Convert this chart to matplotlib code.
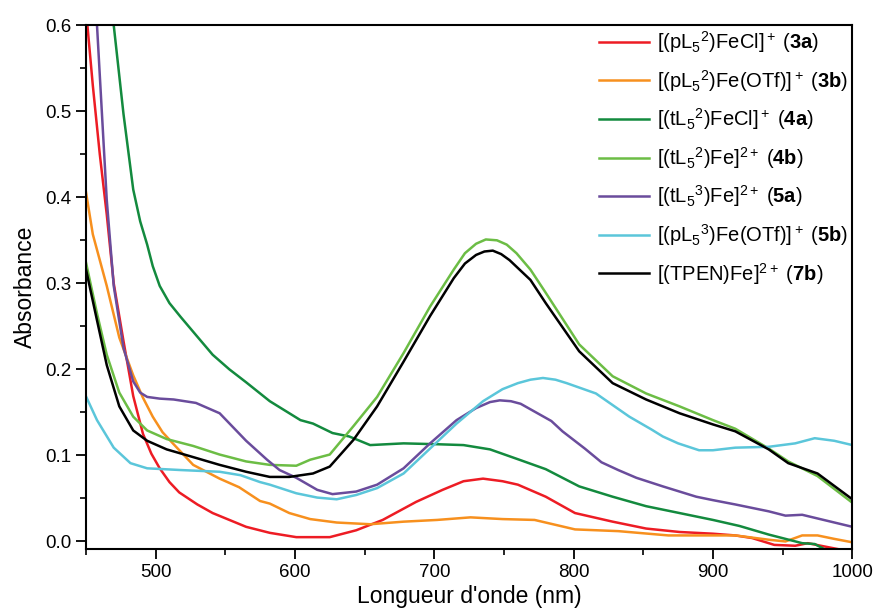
import matplotlib
matplotlib.use("Agg")
import matplotlib.pyplot as plt
from matplotlib.ticker import MultipleLocator, FormatStrFormatter

plt.rcParams['font.family'] = ['Liberation Sans', 'DejaVu Sans']
plt.rcParams['mathtext.fontset'] = 'custom'
plt.rcParams['mathtext.rm'] = 'Liberation Sans'
plt.rcParams['mathtext.it'] = 'Liberation Sans'
plt.rcParams['mathtext.bf'] = 'Liberation Sans:bold'

# --- data (wavelength nm, absorbance) ---
red_x = [450, 455, 460, 465, 470, 477, 484, 491, 497, 503, 510, 517, 530, 541, 565, 582, 601, 625,
         644, 663, 687, 706, 721, 735, 749, 760, 780, 801, 828, 852, 876, 900, 916, 928, 944, 959,
         968, 990, 1000]
red_y = [0.62, 0.53, 0.45, 0.38, 0.30, 0.233, 0.169, 0.125, 0.102, 0.085, 0.069, 0.057, 0.043,
         0.033, 0.017, 0.010, 0.005, 0.005, 0.013, 0.025, 0.046, 0.060, 0.070, 0.073, 0.070,
         0.066, 0.052, 0.033, 0.023, 0.015, 0.011, 0.009, 0.007, 0.004, -0.004, -0.005, -0.002,
         -0.009, -0.015]

orange_x = [450, 455, 465, 474, 484, 491, 498, 505, 513, 527, 546, 560, 575, 582, 596, 611, 630,
            654, 678, 702, 726, 749, 772, 801, 832, 868, 900, 916, 940, 952, 964, 975, 987, 1000]
orange_y = [0.407, 0.357, 0.297, 0.237, 0.193, 0.167, 0.145, 0.127, 0.113, 0.089, 0.073, 0.063,
            0.047, 0.044, 0.033, 0.026, 0.022, 0.020, 0.023, 0.025, 0.028, 0.026, 0.025, 0.014,
            0.012, 0.007, 0.007, 0.007, 0.002, 0.000, 0.007, 0.007, 0.003, -0.001]

dkgreen_x = [463, 470, 477, 484, 489, 494, 498, 503, 510, 518, 530, 541, 553, 565, 582, 604, 613,
             627, 639, 654, 678, 702, 721, 740, 761, 780, 804, 828, 852, 876, 900, 919, 940, 964,
             973, 980, 1000]
dkgreen_y = [0.70, 0.60, 0.497, 0.409, 0.372, 0.345, 0.320, 0.297, 0.277, 0.261, 0.238, 0.217,
             0.200, 0.185, 0.163, 0.141, 0.137, 0.126, 0.122, 0.112, 0.114, 0.113, 0.112, 0.107,
             0.095, 0.084, 0.064, 0.052, 0.041, 0.033, 0.025, 0.018, 0.008, -0.002, -0.003,
             -0.009, -0.02]

ltgreen_x = [450, 458, 465, 474, 484, 494, 508, 527, 546, 565, 582, 601, 611, 625, 642, 659, 678,
             697, 714, 722, 730, 737, 745, 752, 759, 769, 780, 804, 828, 852, 876, 900, 916, 940,
             954, 975, 1000]
ltgreen_y = [0.325, 0.265, 0.217, 0.173, 0.145, 0.129, 0.119, 0.111, 0.101, 0.093, 0.089, 0.088,
             0.095, 0.101, 0.134, 0.168, 0.219, 0.273, 0.316, 0.335, 0.346, 0.351, 0.350, 0.345,
             0.335, 0.316, 0.289, 0.229, 0.192, 0.172, 0.157, 0.141, 0.131, 0.108, 0.093, 0.076,
             0.045]

purple_x = [455, 458, 465, 470, 477, 484, 489, 494, 503, 513, 529, 546, 565, 580, 589, 601, 616,
            627, 644, 659, 678, 697, 716, 730, 740, 747, 755, 762, 784, 792, 808, 820, 832, 845,
            864, 888, 900, 916, 940, 952, 964, 1000]
purple_y = [0.70, 0.60, 0.397, 0.297, 0.225, 0.186, 0.173, 0.168, 0.166, 0.165, 0.161, 0.149,
            0.117, 0.095, 0.083, 0.074, 0.060, 0.055, 0.058, 0.066, 0.085, 0.114, 0.141, 0.155,
            0.162, 0.164, 0.163, 0.160, 0.140, 0.128, 0.108, 0.092, 0.083, 0.074, 0.064, 0.052,
            0.048, 0.043, 0.035, 0.030, 0.031, 0.017]

cyan_x = [450, 458, 470, 482, 494, 518, 546, 561, 575, 582, 601, 616, 630, 644, 659, 678, 697,
          716, 735, 749, 760, 769, 778, 787, 795, 816, 840, 856, 864, 875, 890, 900, 916, 940,
          959, 973, 987, 1000]
cyan_y = [0.169, 0.141, 0.109, 0.091, 0.085, 0.083, 0.081, 0.077, 0.069, 0.066, 0.056, 0.051,
          0.049, 0.054, 0.062, 0.079, 0.108, 0.137, 0.163, 0.177, 0.184, 0.188, 0.190, 0.188,
          0.184, 0.172, 0.145, 0.130, 0.122, 0.114, 0.106, 0.106, 0.109, 0.110, 0.114, 0.120,
          0.117, 0.112]

black_x = [450, 458, 465, 474, 484, 494, 508, 525, 546, 565, 582, 596, 613, 625, 642, 659, 678,
           697, 714, 722, 730, 736, 742, 748, 754, 769, 780, 804, 828, 852, 876, 900, 916, 940,
           954, 975, 1000]
black_y = [0.317, 0.257, 0.205, 0.157, 0.129, 0.117, 0.107, 0.099, 0.089, 0.081, 0.075, 0.075,
           0.079, 0.087, 0.118, 0.157, 0.209, 0.262, 0.306, 0.323, 0.333, 0.337, 0.338, 0.334,
           0.327, 0.304, 0.277, 0.221, 0.184, 0.165, 0.149, 0.136, 0.128, 0.107, 0.091, 0.079,
           0.049]

labels = [r'[(pL$_5$$^2$)FeCl]$^+$ ($\mathbf{3a}$)',
          r'[(pL$_5$$^2$)Fe(OTf)]$^+$ ($\mathbf{3b}$)',
          r'[(tL$_5$$^2$)FeCl]$^+$ ($\mathbf{4a}$)',
          r'[(tL$_5$$^2$)Fe]$^{2+}$ ($\mathbf{4b}$)',
          r'[(tL$_5$$^3$)Fe]$^{2+}$ ($\mathbf{5a}$)',
          r'[(pL$_5$$^3$)Fe(OTf)]$^+$ ($\mathbf{5b}$)',
          r'[(TPEN)Fe]$^{2+}$ ($\mathbf{7b}$)']
colors = ['#ED1C24', '#F7901E', '#138A3E', '#6CBD45', '#6A4C9C', '#5BC6DA', '#000000']
series = [(red_x, red_y), (orange_x, orange_y), (dkgreen_x, dkgreen_y), (ltgreen_x, ltgreen_y),
          (purple_x, purple_y), (cyan_x, cyan_y), (black_x, black_y)]

fig = plt.figure(figsize=(8.76, 6.15), dpi=100)
ax = fig.add_axes([0.098, 0.107, 0.875, 0.852])
for (x, y), c, lab in zip(series, colors, labels):
    ax.plot(x, y, color=c, lw=1.8, label=lab, solid_joinstyle='round')

ax.set_xlim(450, 1000)
ax.set_ylim(-0.009, 0.6)
ax.xaxis.set_major_locator(MultipleLocator(100))
ax.xaxis.set_minor_locator(MultipleLocator(50))
ax.yaxis.set_major_locator(MultipleLocator(0.1))
ax.yaxis.set_minor_locator(MultipleLocator(0.05))
ax.yaxis.set_major_formatter(FormatStrFormatter('%.1f'))
ax.tick_params(which='major', direction='out', length=7, width=1.3, labelsize=13.5)
ax.tick_params(which='minor', direction='out', length=4, width=1.2)
for s in ax.spines.values():
    s.set_linewidth(1.5)
ax.set_xlabel("Longueur d'onde (nm)", fontsize=16.5, labelpad=3)
ax.set_ylabel("Absorbance", fontsize=16.5, labelpad=6)

ax.legend(loc='upper right', frameon=False, fontsize=14.5, handlelength=2.5,
          labelspacing=0.63, borderaxespad=0.1, borderpad=0.1, handletextpad=0.4)

fig.savefig("out.png", dpi=100)
